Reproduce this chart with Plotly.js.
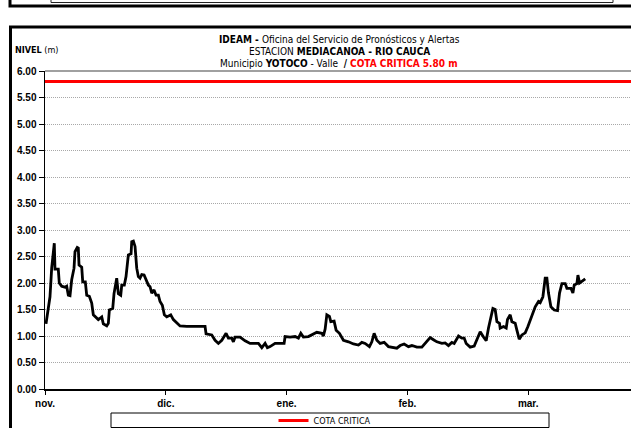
<!DOCTYPE html>
<html>
<head>
<meta charset="utf-8">
<script src="https://cdn.plot.ly/plotly-3.0.1.min.js"></script>
<style>
html,body{margin:0;padding:0;background:#fff;overflow:hidden;width:631px;height:428px;}
#chart{width:680px;height:428px;}
</style>
</head>
<body>
<div id="chart"></div>
<script>
// Day offsets from 1 Nov (30-day month spacing as on the chart's axis)
const days = [0.25,1.24,1.66,2.31,2.48,3.30,3.55,4.15,4.97,5.39,5.79,6.21,6.63,7.21,7.45,8.02,8.27,8.45,9.12,9.37,10.01,10.36,11.01,11.60,12.00,12.84,13.24,14.09,14.48,15.33,15.73,15.98,16.82,17.14,17.81,18.21,18.81,19.06,19.70,20.12,20.70,21.37,21.54,21.94,22.36,22.78,23.18,23.60,24.03,24.60,25.09,25.67,26.09,26.51,27.08,27.58,28.15,28.57,29.14,29.64,30.24,31.23,31.88,32.72,33.54,35.21,38.51,39.75,40.00,41.42,42.24,43.06,43.90,44.97,45.54,46.39,46.78,47.21,48.45,49.69,50.93,53.00,53.84,54.66,55.23,55.90,57.14,59.38,59.63,60.87,62.11,62.93,63.53,64.17,65.42,66.26,67.50,68.75,69.14,69.57,69.99,70.64,70.98,71.80,72.30,73.12,74.11,75.36,76.60,77.84,78.69,79.50,80.57,81.17,81.74,82.41,83.23,84.23,85.29,87.38,88.20,89.19,90.26,91.11,92.35,93.59,94.41,95.65,96.47,97.32,98.56,99.38,100.20,101.04,101.62,102.29,102.69,103.53,104.10,104.60,105.59,106.59,107.26,108.08,108.90,109.57,110.14,110.74,111.23,111.80,112.23,112.87,113.04,113.87,114.54,114.86,115.53,115.95,116.77,117.19,117.77,118.44,119.26,119.93,120.92,121.74,122.56,122.98,123.65,124.22,124.64,125.04,125.64,126.46,127.28,127.78,128.37,129.19,129.61,130.61,131.10,131.43,132.10,132.35,132.75,133.59,134.16];
const nivel = [1.23,1.74,2.28,2.75,2.26,2.26,2.00,1.94,1.92,1.94,1.77,1.76,2.06,2.28,2.59,2.67,2.66,2.34,2.30,2.02,2.02,1.77,1.75,1.62,1.40,1.35,1.31,1.36,1.23,1.19,1.24,1.49,1.52,1.80,2.09,1.80,1.77,1.96,1.96,2.12,2.53,2.55,2.78,2.79,2.69,2.28,2.12,2.09,2.16,2.15,2.06,1.96,1.93,1.81,1.87,1.77,1.77,1.65,1.58,1.40,1.36,1.40,1.31,1.24,1.19,1.18,1.17,1.18,1.04,1.02,0.92,0.86,0.92,1.05,0.96,0.96,0.89,0.98,0.98,0.91,0.86,0.86,0.78,0.86,0.78,0.80,0.86,0.86,0.99,0.98,0.99,0.96,1.05,0.98,0.99,1.02,1.07,1.05,1.00,1.13,1.40,1.37,1.27,1.28,1.11,1.05,0.92,0.89,0.85,0.83,0.88,0.86,0.80,0.89,1.05,0.92,0.86,0.88,0.80,0.77,0.82,0.85,0.80,0.82,0.79,0.79,0.86,0.97,0.93,0.89,0.86,0.87,0.82,0.88,0.86,0.96,1.00,0.96,0.96,0.86,0.79,0.81,0.93,1.08,0.98,0.91,1.15,1.33,1.52,1.50,1.27,1.24,1.15,1.18,1.15,1.31,1.40,1.27,1.24,1.11,0.94,1.02,1.06,1.18,1.40,1.55,1.65,1.63,1.74,2.09,2.09,1.81,1.55,1.49,1.48,1.81,1.99,1.99,1.90,1.90,1.81,1.96,1.99,2.15,2.00,2.04,2.08];
const cotaX = [0, 150];
const cotaY = [5.80, 5.80];
const tickDays = [0, 30, 60, 90, 120];
const tickLabels = ['nov.', 'dic.', 'ene.', 'feb.', 'mar.'];
const yTickVals = [0, 0.5, 1, 1.5, 2, 2.5, 3, 3.5, 4, 4.5, 5, 5.5, 6];
const yTickLabels = ['0.00','0.50','1.00','1.50','2.00','2.50','3.00','3.50','4.00','4.50','5.00','5.50','6.00'];
const titleLines = [
  '<b>IDEAM - </b>Oficina del Servicio de Pronósticos y Alertas',
  'ESTACION <b>MEDIACANOA - RIO CAUCA</b>',
  'Municipio <b>YOTOCO</b> - Valle  <b>/ </b><b><span style="color:#ff0000">COTA CRITICA 5.80 m</span></b>'
];

// pixel -> paper helpers (plot area: x 45..649, y 71..389)
const L = 45, R = 649, T = 71, B = 389;
const px = x => (x - L) / (R - L);
const py = y => (B - y) / (B - T);

const narrow = '"Liberation Sans Narrow", "Arial Narrow", "DejaVu Sans Condensed", sans-serif';
const arial = '"Liberation Sans", Arial, sans-serif';
const bold = s => '<b>' + s + '</b>';

const traces = [
  {x: days, y: nivel, type: 'scatter', mode: 'lines', line: {color: '#000', width: 2.8}, showlegend: false, name: 'NIVEL'},
  {x: cotaX, y: cotaY, type: 'scatter', mode: 'lines', line: {color: '#ff0000', width: 3}, name: 'COTA CRITICA'}
];

const titleY = [39, 51, 63];

const layout = {
  width: 680, height: 428,
  margin: {l: L, r: 680 - R, t: T, b: 428 - B, pad: 0, autoexpand: false},
  paper_bgcolor: 'rgba(0,0,0,0)', plot_bgcolor: '#fff',
  xaxis: {
    range: [0, 150], tickvals: tickDays, ticktext: tickLabels.map(bold),
    showgrid: false, zeroline: false, showline: true, linecolor: '#000', linewidth: 1.5,
    ticks: 'outside', ticklen: 4, tickcolor: '#000',
    tickfont: {family: arial, size: 10, color: '#000'}, fixedrange: true
  },
  yaxis: {
    range: [0, 6], tickvals: yTickVals, ticktext: yTickLabels.map(bold),
    showgrid: true, gridcolor: '#a8a8a8', griddash: '1px,1px', gridwidth: 1,
    zeroline: false, showline: true, linecolor: '#000', linewidth: 1.5,
    ticks: 'outside', ticklen: 5, tickcolor: '#000',
    tickfont: {family: arial, size: 10, color: '#000'}, fixedrange: true
  },
  showlegend: true,
  legend: {
    x: px(325), xanchor: 'center', y: py(420.5), yanchor: 'middle',
    orientation: 'h', bgcolor: 'rgba(0,0,0,0)', borderwidth: 0,
    font: {family: narrow, size: 9, color: '#000'}
  },
  annotations: titleLines.map((t, i) => ({
    text: t, xref: 'paper', yref: 'paper', x: px(339), y: py(titleY[i]),
    xanchor: 'center', yanchor: 'middle', showarrow: false,
    font: {family: narrow, size: 10, color: '#000'}
  })).concat([
    {text: '<b>NIVEL</b> (m)', xref: 'paper', yref: 'paper', x: px(13), y: py(50), xanchor: 'left', yanchor: 'middle', showarrow: false, font: {family: narrow, size: 9, color: '#000'}}
  ]),
  shapes: [
    // previous chart frame (cut at top)
    {type: 'rect', xref: 'paper', yref: 'paper', x0: px(10), x1: px(720), y0: py(-20), y1: py(6), line: {color: '#000', width: 3}, fillcolor: 'rgba(0,0,0,0)', layer: 'above'},
    {type: 'rect', xref: 'paper', yref: 'paper', x0: px(51), x1: px(613), y0: py(-10), y1: py(2.5), line: {color: '#222', width: 1}, fillcolor: 'rgba(0,0,0,0)', layer: 'above'},
    // this chart's frame
    {type: 'rect', xref: 'paper', yref: 'paper', x0: px(10.5), x1: px(720), y0: py(520), y1: py(27), line: {color: '#000', width: 3}, fillcolor: 'rgba(0,0,0,0)', layer: 'above'},
    // legend box
    {type: 'rect', xref: 'paper', yref: 'paper', x0: px(111), x1: px(549), y0: py(427.5), y1: py(413), line: {color: '#000', width: 1}, fillcolor: 'rgba(0,0,0,0)', layer: 'above'},
    // plot-area top border
    {type: 'line', xref: 'paper', yref: 'paper', x0: 0, x1: 1, y0: 1, y1: 1, line: {color: '#a0a0a0', width: 2}, layer: 'above'}
  ]
};

Plotly.newPlot('chart', traces, layout, {staticPlot: true, displayModeBar: false});
</script>
</body>
</html>
